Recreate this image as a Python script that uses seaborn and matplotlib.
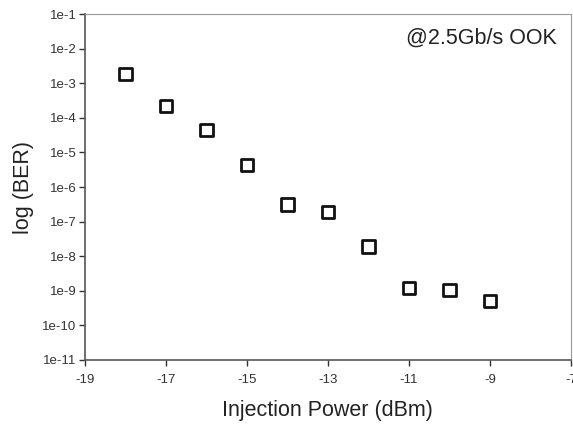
import pandas as pd
import matplotlib.pyplot as plt
import seaborn as sns

# Values
power_dbm = [-18, -17, -16, -15, -14, -13, -12, -11, -10, -9]
ber = [1.85e-3, 2.2e-4, 4.4e-5, 4.3e-6, 3.1e-7, 1.9e-7, 1.9e-8, 1.2e-9, 1.05e-9, 5.1e-10]
y_exponents = list(range(-1, -12, -1))
x_ticks = [-19, -17, -15, -13, -11, -9, -7]

df = pd.DataFrame({'power': power_dbm, 'ber': ber})

sns.set_style("white")
plt.rcParams['font.family'] = ['Liberation Sans', 'DejaVu Sans']

fig = plt.figure(figsize=(5.73, 4.25), dpi=100)
ax = fig.add_axes([0.148, 0.153, 0.8485, 0.814])

sns.scatterplot(
    data=df,
    x='power',
    y='ber',
    ax=ax,
    marker='s',
    s=80,
    facecolor='none',
    edgecolor='#111111',
    linewidth=2,
    zorder=3
)

ax.set_yscale('log')
ax.set_ylim(1e-11, 1e-1)
ax.set_xlim(-19, -7)
ax.set_yticks([10.0 ** e for e in y_exponents])
ax.set_yticklabels([f'1e{e}' for e in y_exponents])
ax.minorticks_off()
ax.set_xticks(x_ticks)
ax.set_xticklabels([str(t) for t in x_ticks])

ax.tick_params(axis='both', direction='out', length=4, width=1, colors='#333333',
               labelsize=9.5, left=True, bottom=True)
ax.tick_params(axis='x', pad=6)
ax.tick_params(axis='y', pad=2)

for side in ['left', 'bottom']:
    ax.spines[side].set_color('#555555')
    ax.spines[side].set_linewidth(1.2)
for side in ['top', 'right']:
    ax.spines[side].set_color('#999999')
    ax.spines[side].set_linewidth(0.8)

ax.set_xlabel('Injection Power (dBm)', fontsize=15.5, color='#222222', labelpad=10)
ax.set_ylabel('log (BER)', fontsize=15.5, color='#222222', labelpad=6)

ax.text(0.97, 0.93, '@2.5Gb/s OOK', transform=ax.transAxes, ha='right', va='center',
        fontsize=15.5, color='#222222')

fig.savefig('out.png', dpi=100)
